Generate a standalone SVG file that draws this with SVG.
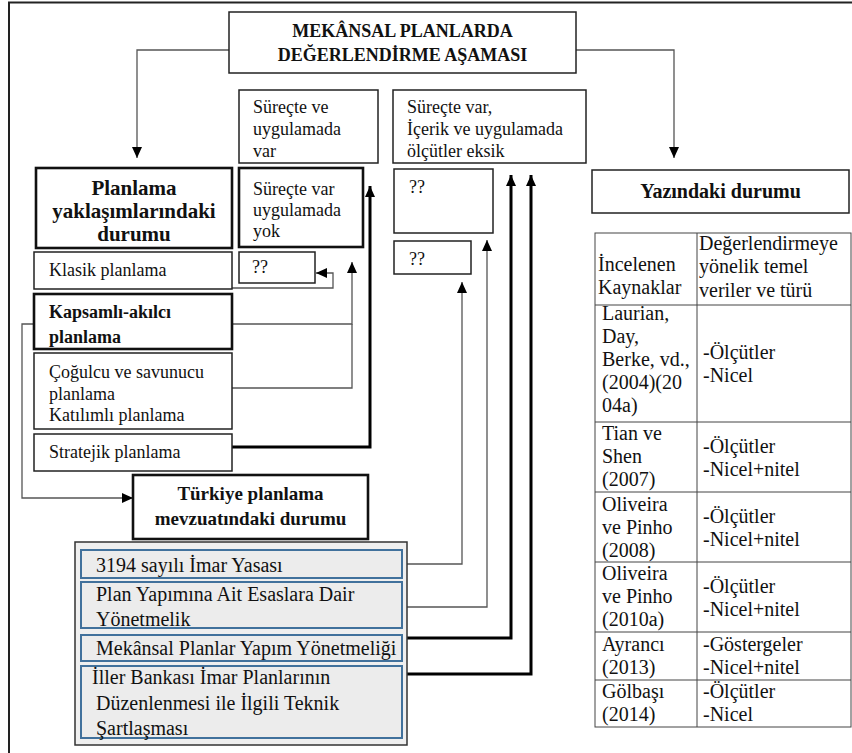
<svg xmlns="http://www.w3.org/2000/svg" width="852" height="753" viewBox="0 0 852 753">
<style>
text{font-family:"Liberation Serif","Times New Roman",serif;fill:#111;}
.t18{font-size:18px;}
.t20{font-size:20px;}
.b{font-weight:bold;}
.box{fill:#fff;stroke:#222;stroke-width:1.5;}
.bx{fill:#fff;stroke:#111;stroke-width:2.6;}
.gbox{fill:#ececec;stroke:#41719c;stroke-width:2;}
.thin{fill:none;stroke:#555;stroke-width:1.3;}
.thick{fill:none;stroke:#000;stroke-width:3;}
.tbl{fill:none;stroke:#444;stroke-width:1;}
</style>
<defs>
<marker id="ah" markerUnits="userSpaceOnUse" markerWidth="12" markerHeight="12" refX="11" refY="5" orient="auto"><path d="M0,0 L11,5 L0,10 z" fill="#000"/></marker>
</defs>
<rect width="852" height="753" fill="#fff"/>
<path d="M9,753 V2.5 H852" fill="none" stroke="#222" stroke-width="2"/>

<g id="connectors">
<path class="thin" d="M229,50 H137 V158" marker-end="url(#ah)"/>
<path class="thin" d="M576,50 H674 V158" marker-end="url(#ah)"/>
<path class="thin" d="M232,288 H333 V273 H316" marker-end="url(#ah)"/>
<path class="thin" d="M232,324 H352 V262" marker-end="url(#ah)"/>
<path class="thin" d="M232,388 H352 V324"/>
<path class="thin" d="M34,324 H22 V498 H133" marker-end="url(#ah)"/>
<path class="thick" d="M232,447 H370 V186" marker-end="url(#ah)"/>
<path class="thin" d="M402,564 H462 V282" marker-end="url(#ah)"/>
<path class="thin" d="M400,607 H487 V240" marker-end="url(#ah)"/>
<path class="thick" d="M402,638 H511 V175" marker-end="url(#ah)"/>
<path class="thick" d="M402,674 H531 V175" marker-end="url(#ah)"/>
</g>

<g id="title">
<rect class="box" x="229" y="12" width="347" height="61"/>
<text class="t18 b" x="402.5" y="37" text-anchor="middle">MEKÂNSAL PLANLARDA</text>
<text class="t18 b" x="402.5" y="61" text-anchor="middle">DEĞERLENDİRME AŞAMASI</text>
</g>

<g id="surecte-ve-uygulamada-var">
<rect class="box" x="239" y="90" width="139" height="73"/>
<text class="t18" x="253" y="113">Süreçte ve</text>
<text class="t18" x="253" y="135">uygulamada</text>
<text class="t18" x="253" y="157">var</text>
</g>

<g id="surecte-var-olcutler-eksik">
<rect class="box" x="393" y="90" width="193" height="73"/>
<text class="t18" x="407" y="113">Süreçte var,</text>
<text class="t18" x="407" y="135">İçerik ve uygulamada</text>
<text class="t18" x="407" y="157">ölçütler eksik</text>
</g>

<g id="planlama-yaklasimlari">
<rect class="bx" x="36" y="168" width="196" height="80"/>
<text class="t20 b" x="134" y="195" text-anchor="middle" style="font-size:21px">Planlama</text>
<text class="t20 b" x="134" y="218" text-anchor="middle" style="font-size:21px">yaklaşımlarındaki</text>
<text class="t20 b" x="134" y="241" text-anchor="middle" style="font-size:21px">durumu</text>
</g>

<g id="surecte-var-uygulamada-yok">
<rect class="bx" x="239" y="168" width="124" height="79"/>
<text class="t18" x="253" y="195">Süreçte var</text>
<text class="t18" x="253" y="216">uygulamada</text>
<text class="t18" x="253" y="237">yok</text>
</g>

<g id="q1">
<rect class="box" x="394" y="169" width="99" height="64"/>
<text class="t18" x="409" y="193">??</text>
</g>
<g id="q2">
<rect class="box" x="394" y="241" width="77" height="33"/>
<text class="t18" x="409" y="265">??</text>
</g>
<g id="q3">
<rect class="box" x="239" y="252" width="76" height="31"/>
<text class="t18" x="252" y="273">??</text>
</g>

<g id="yazindaki-durumu">
<rect class="box" x="592" y="170" width="257" height="43"/>
<text class="t20 b" x="720.5" y="198" text-anchor="middle">Yazındaki durumu</text>
</g>

<g id="klasik">
<rect class="box" x="34" y="252" width="198" height="37"/>
<text class="t18" x="49" y="276">Klasik planlama</text>
</g>
<g id="kapsamli">
<rect class="bx" x="34" y="294" width="198" height="55"/>
<text class="t18 b" x="49" y="318">Kapsamlı-akılcı</text>
<text class="t18 b" x="49" y="343">planlama</text>
</g>
<g id="cogulcu">
<rect class="box" x="34" y="353" width="198" height="76"/>
<text class="t18" x="49" y="378">Çoğulcu ve savunucu</text>
<text class="t18" x="49" y="400">planlama</text>
<text class="t18" x="49" y="421">Katılımlı planlama</text>
</g>
<g id="stratejik">
<rect class="box" x="34" y="434" width="198" height="37"/>
<text class="t18" x="49" y="458">Stratejik planlama</text>
</g>

<g id="turkiye-mevzuat">
<rect class="bx" x="133" y="475" width="235" height="64"/>
<text class="t20 b" x="250.5" y="500" text-anchor="middle" style="font-size:19px">Türkiye planlama</text>
<text class="t20 b" x="250.5" y="525" text-anchor="middle" style="font-size:19px">mevzuatındaki durumu</text>
</g>

<g id="mevzuat-listesi">
<rect x="75" y="542" width="332" height="203" fill="#efefef" stroke="#333" stroke-width="1.5"/>
<g id="imar-yasasi">
<rect class="gbox" x="81" y="550" width="321" height="28"/>
<text class="t20" x="96" y="572">3194 sayılı İmar Yasası</text>
</g>
<g id="plan-yapimina">
<rect class="gbox" x="81" y="582" width="321" height="46"/>
<text class="t20" x="96" y="601">Plan Yapımına Ait Esaslara Dair</text>
<text class="t20" x="96" y="626">Yönetmelik</text>
</g>
<g id="mekansal-planlar">
<rect class="gbox" x="81" y="635" width="321" height="26"/>
<text class="t20" x="96" y="655">Mekânsal Planlar Yapım Yönetmeliği</text>
</g>
<g id="iller-bankasi">
<rect class="gbox" x="81" y="666" width="321" height="72"/>
<text class="t20" x="92" y="684">İller Bankası İmar Planlarının</text>
<text class="t20" x="96" y="710">Düzenlenmesi ile İlgili Teknik</text>
<text class="t20" x="96" y="735">Şartlaşması</text>
</g>
</g>

<g id="tablo">
<rect class="tbl" x="595" y="233" width="256" height="494"/>
<path class="tbl" d="M697,233 V727 M595,305 H851 M595,422 H851 M595,492 H851 M595,562 H851 M595,632 H851 M595,680 H851"/>
<text class="t20" x="598" y="271">İncelenen</text>
<text class="t20" x="598" y="294">Kaynaklar</text>
<text class="t20" x="699" y="250">Değerlendirmeye</text>
<text class="t20" x="699" y="273">yönelik temel</text>
<text class="t20" x="699" y="297">veriler ve türü</text>

<text class="t20" x="602" y="320">Laurian,</text>
<text class="t20" x="602" y="343">Day,</text>
<text class="t20" x="602" y="366">Berke, vd.,</text>
<text class="t20" x="602" y="389">(2004)(20</text>
<text class="t20" x="602" y="412">04a)</text>
<text class="t20" x="703" y="359">-Ölçütler</text>
<text class="t20" x="703" y="382">-Nicel</text>

<text class="t20" x="602" y="440">Tian ve</text>
<text class="t20" x="602" y="463">Shen</text>
<text class="t20" x="602" y="486">(2007)</text>
<text class="t20" x="703" y="453">-Ölçütler</text>
<text class="t20" x="703" y="476">-Nicel+nitel</text>

<text class="t20" x="602" y="511">Oliveira</text>
<text class="t20" x="602" y="534">ve Pinho</text>
<text class="t20" x="602" y="557">(2008)</text>
<text class="t20" x="703" y="523">-Ölçütler</text>
<text class="t20" x="703" y="546">-Nicel+nitel</text>

<text class="t20" x="602" y="580">Oliveira</text>
<text class="t20" x="602" y="603">ve Pinho</text>
<text class="t20" x="602" y="626">(2010a)</text>
<text class="t20" x="703" y="593">-Ölçütler</text>
<text class="t20" x="703" y="616">-Nicel+nitel</text>

<text class="t20" x="602" y="651">Ayrancı</text>
<text class="t20" x="602" y="674">(2013)</text>
<text class="t20" x="703" y="651">-Göstergeler</text>
<text class="t20" x="703" y="674">-Nicel+nitel</text>

<text class="t20" x="602" y="698">Gölbaşı</text>
<text class="t20" x="602" y="721">(2014)</text>
<text class="t20" x="703" y="698">-Ölçütler</text>
<text class="t20" x="703" y="721">-Nicel</text>
</g>
</svg>
